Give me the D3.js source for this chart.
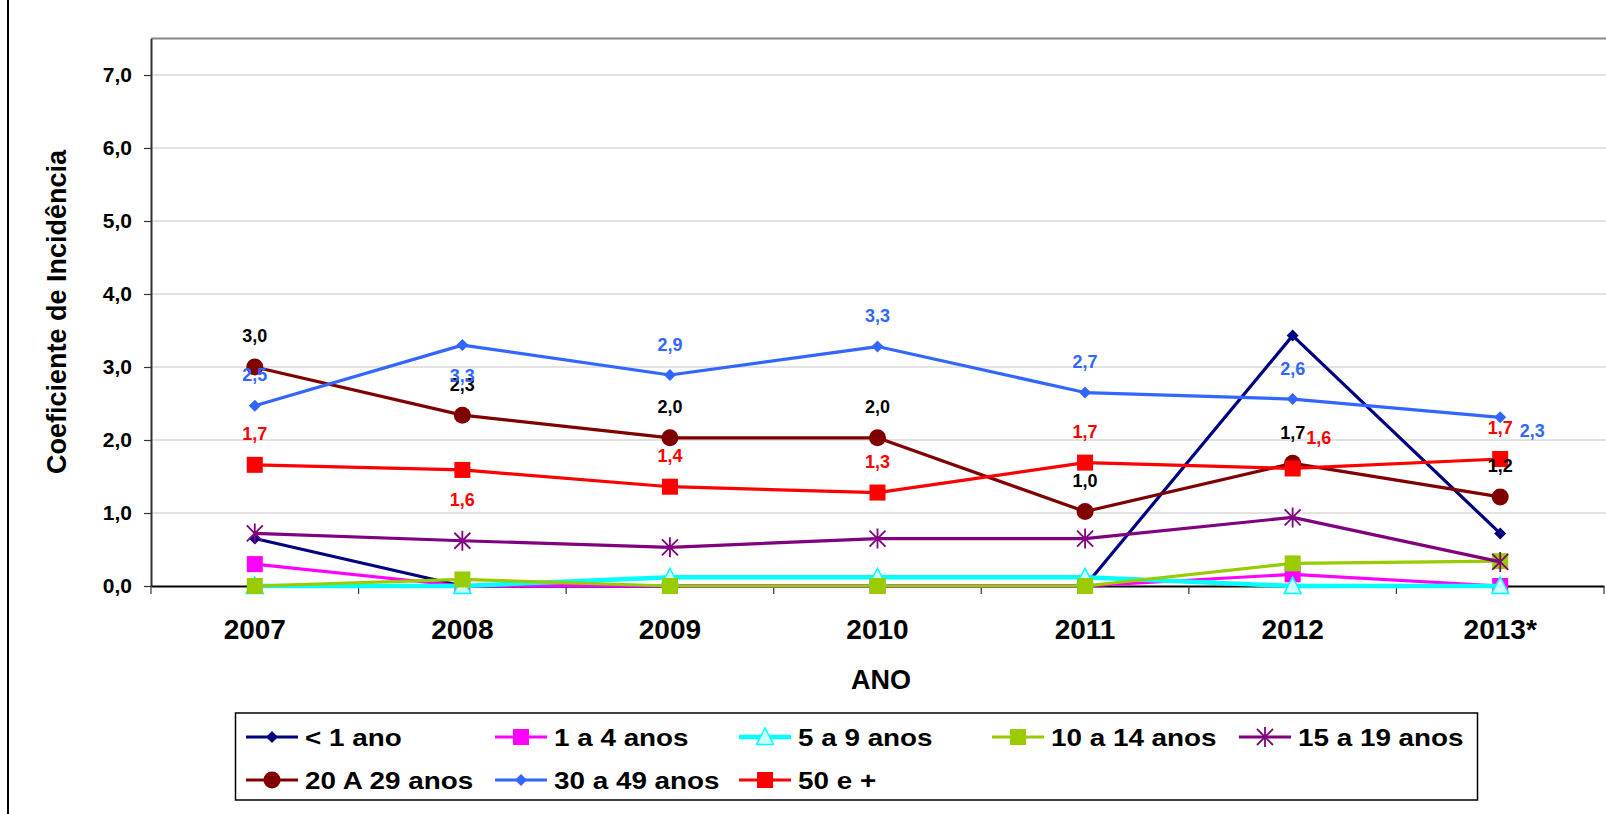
<!DOCTYPE html>
<html lang="pt">
<head>
<meta charset="UTF-8">
<title>Coeficiente de Incidência por faixa etária</title>
<script src="https://cdn.jsdelivr.net/npm/d3@7"></script>
<style>
  body { margin: 0; background: #fff; }
  svg text { font-family: Arial, "Liberation Sans", sans-serif; font-weight: bold; }
</style>
</head>
<body>
<script>
const anos = ['2007', '2008', '2009', '2010', '2011', '2012', '2013*'];
const menos1 = [0.65, 0, 0, 0, 0, 3.43, 0.72];
const de1a4 = [0.30, 0, 0, 0, 0, 0.16, 0];
const de5a9 = [0, 0, 0.12, 0.12, 0.12, 0, 0];
const de10a14 = [0, 0.09, 0, 0, 0, 0.31, 0.34];
const de15a19 = [0.72, 0.62, 0.53, 0.65, 0.65, 0.94, 0.33];
const de20a29 = [3.00, 2.34, 2.03, 2.03, 1.02, 1.68, 1.22];
const de30a49 = [2.47, 3.30, 2.89, 3.28, 2.65, 2.56, 2.31];
const de50mais = [1.66, 1.59, 1.36, 1.28, 1.69, 1.61, 1.74];
const yTicks = [0, 1, 2, 3, 4, 5, 6, 7];

// onde fica o rótulo de cada ponto
const pos20a29 = ['above', 'above', 'above', 'above', 'above', 'above', 'above'];
const pos30a49 = ['above', 'below', 'above', 'above', 'above', 'above', 'right'];
const pos50mais = ['above', 'below', 'above', 'above', 'above', 'aboveRight', 'above'];

const series = [
    { name: '< 1 ano', values: menos1, color: '#000080', marker: 'diamond' },
    { name: '1 a 4 anos', values: de1a4, color: '#FF00FF', marker: 'square' },
    { name: '5 a 9 anos', values: de5a9, color: '#00FFFF', marker: 'triangle', width: 4.5 },
    { name: '10 a 14 anos', values: de10a14, color: '#99CC00', marker: 'square' },
    { name: '15 a 19 anos', values: de15a19, color: '#800080', marker: 'star' },
    { name: '20 A 29 anos', values: de20a29, color: '#800000', marker: 'circle', labels: pos20a29, labelColor: '#000000' },
    { name: '30 a 49 anos', values: de30a49, color: '#3366FF', marker: 'diamond', labels: pos30a49, labelColor: '#3366FF' },
    { name: '50 e +', values: de50mais, color: '#FF0000', marker: 'square', labels: pos50mais, labelColor: '#FF0000' }
];

const w = 1606, h = 814;
const plotLeft = 151, plotRight = 1604, plotTop = 38.5, plotBottom = 586;

const svg = d3.select('body').append('svg')
    .attr('width', w)
    .attr('height', h);

// borda do gráfico (só o lado esquerdo aparece)
svg.append('line')
    .attr('x1', 8).attr('x2', 8).attr('y1', 0).attr('y2', h)
    .attr('stroke', '#000').attr('stroke-width', 2);

const x = d3.scaleBand().domain(anos).range([plotLeft, plotRight]);
const y = d3.scaleLinear().domain([0, 7.5]).range([plotBottom, plotTop]);
const fmt = v => d3.format('.1f')(v).replace('.', ',');

// grade
svg.append('g').selectAll('line')
    .data(yTicks.filter(d => d > 0))
    .enter().append('line')
    .attr('x1', plotLeft).attr('x2', w)
    .attr('y1', d => y(d)).attr('y2', d => y(d))
    .attr('stroke', '#c8c8c8').attr('stroke-width', 1.2);

// borda superior da área de plotagem
svg.append('line')
    .attr('x1', plotLeft).attr('x2', w).attr('y1', plotTop).attr('y2', plotTop)
    .attr('stroke', '#888').attr('stroke-width', 2);

// eixo Y
const yAxis = svg.append('g')
    .attr('transform', `translate(${plotLeft},0)`)
    .call(d3.axisLeft(y).tickValues(yTicks).tickFormat(fmt)
        .tickSizeInner(7).tickSizeOuter(0).tickPadding(12));
yAxis.select('.domain').attr('stroke', '#333').attr('stroke-width', 2);
yAxis.selectAll('.tick line').attr('stroke', '#333').attr('stroke-width', 1.2);
yAxis.selectAll('text').attr('font-size', '21px').attr('fill', '#000');

// eixo X
const xAxis = svg.append('g')
    .attr('transform', `translate(0,${plotBottom})`)
    .call(d3.axisBottom(x).tickSize(0).tickPadding(33));
xAxis.select('.domain').attr('stroke', '#000').attr('stroke-width', 1.8);
xAxis.selectAll('text').attr('font-size', '28px').attr('fill', '#000');

// marcas entre as categorias
svg.append('g').selectAll('line')
    .data(anos.concat(['fim']))
    .enter().append('line')
    .attr('x1', (d, i) => i < anos.length ? x(d) : plotRight)
    .attr('x2', (d, i) => i < anos.length ? x(d) : plotRight)
    .attr('y1', plotBottom).attr('y2', plotBottom + 8)
    .attr('stroke', '#333').attr('stroke-width', 1.2);

// títulos dos eixos
svg.append('text')
    .attr('transform', 'translate(66,312) rotate(-90)')
    .attr('text-anchor', 'middle')
    .attr('font-size', '27px')
    .text('Coeficiente de Incidência');

svg.append('text')
    .attr('x', 881).attr('y', 689)
    .attr('text-anchor', 'middle')
    .attr('font-size', '27px')
    .text('ANO');

function drawMarker(g, s) {
    if (s.marker === 'square') {
        g.append('rect').attr('x', -8).attr('y', -8).attr('width', 16).attr('height', 16)
            .attr('fill', s.color);
    } else if (s.marker === 'circle') {
        g.append('circle').attr('r', 8.5).attr('fill', s.color);
    } else if (s.marker === 'diamond') {
        g.append('path').attr('d', 'M0,-6L6,0L0,6L-6,0Z').attr('fill', s.color);
    } else if (s.marker === 'triangle') {
        g.append('path').attr('d', 'M0,-9L8.5,7.5L-8.5,7.5Z')
            .attr('fill', '#CCFFFF').attr('stroke', s.color).attr('stroke-width', 1.5);
    } else if (s.marker === 'star') {
        g.append('path').attr('d', 'M0,-10V10M-8,-8L8,8M-8,8L8,-8')
            .attr('fill', 'none').attr('stroke', s.color).attr('stroke-width', 1.8);
    }
}

const line = d3.line()
    .x((d, i) => x(anos[i]) + x.bandwidth() / 2)
    .y(d => y(d));

series.forEach(s => {
    const g = svg.append('g');
    g.append('path')
        .datum(s.values)
        .attr('d', line)
        .attr('fill', 'none')
        .attr('stroke', s.color)
        .attr('stroke-width', s.width || 3.2)
        .attr('stroke-linejoin', 'round');
    g.selectAll('g.pt')
        .data(s.values)
        .enter().append('g')
        .attr('class', 'pt')
        .attr('transform', (d, i) => `translate(${x(anos[i]) + x.bandwidth() / 2},${y(d)})`)
        .each(function () { drawMarker(d3.select(this), s); });
});

// rótulos de dados
const offsets = {
    above: [0, -31],
    below: [0, 30],
    right: [32, 13],
    aboveRight: [26, -31]
};
series.filter(s => s.labels).forEach(s => {
    svg.append('g').selectAll('text')
        .data(s.values)
        .enter().append('text')
        .attr('x', (d, i) => x(anos[i]) + x.bandwidth() / 2 + offsets[s.labels[i]][0])
        .attr('y', (d, i) => y(d) + offsets[s.labels[i]][1])
        .attr('dy', '0.36em')
        .attr('text-anchor', 'middle')
        .attr('font-size', '18px')
        .attr('fill', s.labelColor)
        .text(d => d3.format('.1f')(d + 0.001).replace('.', ','));
});

// legenda
const legCols = [246, 495, 739, 992, 1239];
const legRows = [737, 780];

svg.append('rect')
    .attr('x', 235.5).attr('y', 713)
    .attr('width', 1242).attr('height', 87)
    .attr('fill', '#fff').attr('stroke', '#000').attr('stroke-width', 1.5);

const leg = svg.append('g').selectAll('g')
    .data(series)
    .enter().append('g')
    .attr('transform', (d, i) => `translate(${legCols[i % 5]},${legRows[Math.floor(i / 5)]})`);

leg.append('line')
    .attr('x1', 0).attr('x2', 52)
    .attr('stroke', d => d.color)
    .attr('stroke-width', d => d.width || 3.2);
leg.append('g')
    .attr('transform', 'translate(26,0)')
    .each(function (d) { drawMarker(d3.select(this), d); });
leg.append('text')
    .attr('transform', 'translate(59,0) scale(1.16,1)')
    .attr('dy', '0.36em')
    .attr('font-size', '24px')
    .text(d => d.name);
</script>
</body>
</html>
